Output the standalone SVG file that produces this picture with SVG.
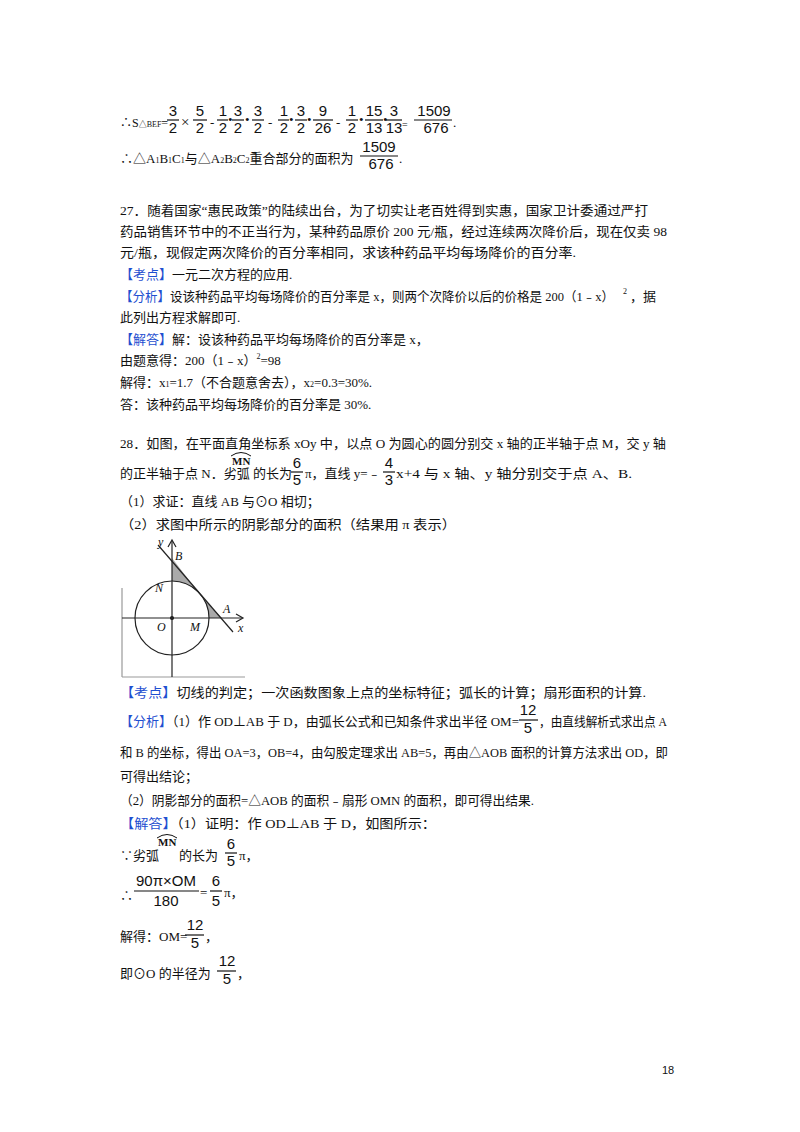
<svg xmlns="http://www.w3.org/2000/svg" width="800" height="1132" viewBox="0 0 800 1132">
<style>
text{font-family:"Liberation Serif","Noto Sans CJK SC",serif;font-size:13px;fill:#111}
.s{font-size:8px}
.n{font-family:"Liberation Sans",sans-serif;font-size:15px;text-anchor:middle}
.b{fill:#1f4fd0}
.i{font-style:italic;font-size:12px}
line.f{stroke:#111;stroke-width:1.2}
</style>
<rect width="800" height="1132" fill="#fff"/>
<g id="line1">
<text x="120" y="127" style="font-size:12px">∴S<tspan class="s">△BEF</tspan>=</text>
<text class="n" x="173" y="116">3</text><text class="n" x="173" y="133">2</text><line class="f" x1="167" y1="120" x2="179" y2="120"/>
<text x="181" y="127" style="font-size:15px">×</text>
<text class="n" x="200" y="116">5</text><text class="n" x="200" y="133">2</text><line class="f" x1="193" y1="120" x2="207" y2="120"/>
<text x="210" y="127">-</text>
<text class="n" x="223" y="116">1</text><text class="n" x="223" y="133">2</text><line class="f" x1="217" y1="120" x2="228" y2="120"/>
<text x="228" y="124">•</text>
<text class="n" x="238" y="116">3</text><text class="n" x="238" y="133">2</text><line class="f" x1="232" y1="120" x2="244" y2="120"/>
<text x="245" y="124">•</text>
<text class="n" x="258" y="116">3</text><text class="n" x="258" y="133">2</text><line class="f" x1="252" y1="120" x2="264" y2="120"/>
<text x="268" y="127">-</text>
<text class="n" x="284" y="116">1</text><text class="n" x="284" y="133">2</text><line class="f" x1="278" y1="120" x2="289" y2="120"/>
<text x="289" y="124">•</text>
<text class="n" x="301" y="116">3</text><text class="n" x="301" y="133">2</text><line class="f" x1="295" y1="120" x2="307" y2="120"/>
<text x="307" y="124">•</text>
<text class="n" x="323" y="116">9</text><text class="n" x="323" y="133">26</text><line class="f" x1="313" y1="120" x2="333" y2="120"/>
<text x="336" y="127">-</text>
<text class="n" x="352" y="116">1</text><text class="n" x="352" y="133">2</text><line class="f" x1="346" y1="120" x2="358" y2="120"/>
<text x="359" y="124">•</text>
<text class="n" x="374" y="116">15</text><text class="n" x="374" y="133">13</text><line class="f" x1="365" y1="120" x2="383" y2="120"/>
<text x="383" y="124">•</text>
<text class="n" x="394" y="116">3</text><text class="n" x="394" y="133">13</text><line class="f" x1="386" y1="120" x2="402" y2="120"/>
<text x="402" y="128" style="font-size:10px">=</text>
<text class="n" x="434" y="116">1509</text><text class="n" x="436" y="133">676</text><line class="f" x1="414" y1="120" x2="452" y2="120"/>
<text x="453" y="127">.</text>
</g>
<g id="line2">
<text x="120" y="163">∴△A<tspan class="s">1</tspan>B<tspan class="s">1</tspan>C<tspan class="s">1</tspan>与△A<tspan class="s">2</tspan>B<tspan class="s">2</tspan>C<tspan class="s">2</tspan>重合部分的面积为</text>
<text class="n" x="379" y="152">1509</text><text class="n" x="381" y="169">676</text><line class="f" x1="360" y1="156" x2="398" y2="156"/>
<text x="399" y="163">.</text>
</g>
<g id="q27">
<text x="120" y="215" textLength="528" lengthAdjust="spacingAndGlyphs">27．随着国家“惠民政策”的陆续出台，为了切实让老百姓得到实惠，国家卫计委通过严打</text>
<text x="120" y="236" textLength="547" lengthAdjust="spacingAndGlyphs">药品销售环节中的不正当行为，某种药品原价 200 元/瓶，经过连续两次降价后，现在仅卖 98</text>
<text x="120" y="257" textLength="456" lengthAdjust="spacingAndGlyphs">元/瓶，现假定两次降价的百分率相同，求该种药品平均每场降价的百分率.</text>
<text x="120" y="279"><tspan class="b">【考点】</tspan>一元二次方程的应用.</text>
<text x="120" y="301" textLength="494" lengthAdjust="spacingAndGlyphs"><tspan class="b">【分析】</tspan>设该种药品平均每场降价的百分率是 x，则两个次降价以后的价格是 200（1﹣x）</text>
<text class="s" x="623" y="294">2</text>
<text x="630" y="301">，据</text>
<text x="120" y="322">此列出方程求解即可.</text>
<text x="120" y="344"><tspan class="b">【解答】</tspan>解：设该种药品平均每场降价的百分率是 x，</text>
<text x="120" y="365">由题意得：200（1﹣x）<tspan class="s" dy="-6">2</tspan><tspan dy="6">=98</tspan></text>
<text x="120" y="387">解得：x<tspan class="s">1</tspan>=1.7（不合题意舍去），x<tspan class="s">2</tspan>=0.3=30%.</text>
<text x="120" y="409">答：该种药品平均每场降价的百分率是 30%.</text>
</g>
<g id="q28">
<text x="120" y="448" textLength="546" lengthAdjust="spacingAndGlyphs">28．如图，在平面直角坐标系 xOy 中，以点 O 为圆心的圆分别交 x 轴的正半轴于点 M，交 y 轴</text>
<text x="120" y="478">的正半轴于点 N．劣弧</text>
<text x="232" y="465" style="font-size:11px;font-weight:bold">MN</text>
<path d="M231 456 Q241 449 251 456" fill="none" stroke="#111"/>
<text x="253" y="478">的长为</text>
<text class="n" x="297" y="468">6</text><text class="n" x="297" y="485">5</text><line class="f" x1="291" y1="472" x2="303" y2="472"/>
<text x="305" y="478">π，直线 y=﹣</text>
<text class="n" x="389" y="468">4</text><text class="n" x="389" y="485">3</text><line class="f" x1="383" y1="472" x2="395" y2="472"/>
<text x="396" y="478" textLength="236" lengthAdjust="spacingAndGlyphs">x+4 与 x 轴、y 轴分别交于点 A、B.</text>
<text x="120" y="506">（1）求证：直线 AB 与⊙O 相切；</text>
<text x="120" y="529" textLength="336" lengthAdjust="spacingAndGlyphs">（2）求图中所示的阴影部分的面积（结果用 π 表示）</text>
</g>
<g id="figure" stroke="#222" fill="none" stroke-width="1.2">
<path d="M172 558 L172 581 A37 37 0 0 1 201 596 Z" fill="#aaa" stroke="none"/>
<path d="M201 596 A37 37 0 0 1 209 618 L222 618 Z" fill="#aaa" stroke="none"/>
<line x1="122" y1="588" x2="122" y2="677" stroke="#999"/>
<line x1="122" y1="677" x2="245" y2="677" stroke="#999"/>
<line x1="172" y1="677" x2="172" y2="541"/>
<path d="M168 547 L172 540 L176 547"/>
<line x1="122" y1="618" x2="242" y2="618"/>
<path d="M236 614 L243 618 L236 622"/>
<circle cx="172" cy="618" r="37"/>
<line x1="158" y1="545" x2="233" y2="632"/>
<circle cx="172" cy="618" r="1.5" fill="#222"/>
</g>
<g id="figlabels">
<text class="i" x="158" y="546">y</text>
<text class="i" x="175" y="560">B</text>
<text class="i" x="155" y="592">N</text>
<text class="i" x="223" y="613">A</text>
<text class="i" x="238" y="632">x</text>
<text class="i" x="157" y="631">O</text>
<text class="i" x="190" y="631">M</text>
</g>
<g id="solution">
<text x="120" y="697" textLength="526" lengthAdjust="spacingAndGlyphs"><tspan class="b">【考点】</tspan>切线的判定；一次函数图象上点的坐标特征；弧长的计算；扇形面积的计算.</text>
<text x="120" y="726" textLength="399" lengthAdjust="spacingAndGlyphs"><tspan class="b">【分析】</tspan>（1）作 OD⊥AB 于 D，由弧长公式和已知条件求出半径 OM=</text>
<text class="n" x="528" y="715">12</text><text class="n" x="528" y="733">5</text><line class="f" x1="519" y1="720" x2="538" y2="720"/>
<text x="539" y="726" textLength="128" lengthAdjust="spacingAndGlyphs">，由直线解析式求出点 A</text>
<text x="120" y="757" textLength="548" lengthAdjust="spacingAndGlyphs">和 B 的坐标，得出 OA=3，OB=4，由勾股定理求出 AB=5，再由△AOB 面积的计算方法求出 OD，即</text>
<text x="120" y="781">可得出结论；</text>
<text x="120" y="805" textLength="414" lengthAdjust="spacingAndGlyphs">（2）阴影部分的面积=△AOB 的面积﹣扇形 OMN 的面积，即可得出结果.</text>
<text x="120" y="828" textLength="316" lengthAdjust="spacingAndGlyphs"><tspan class="b">【解答】</tspan>（1）证明：作 OD⊥AB 于 D，如图所示：</text>
<text x="120" y="860">∵劣弧</text>
<text x="158" y="846" style="font-size:11px;font-weight:bold">MN</text>
<path d="M157 838 Q167 831 177 838" fill="none" stroke="#111"/>
<text x="179" y="860">的长为</text>
<text class="n" x="231" y="849">6</text><text class="n" x="231" y="866">5</text><line class="f" x1="225" y1="853" x2="237" y2="853"/>
<text x="239" y="860">π，</text>
<text x="120" y="900">∴</text>
<text class="n" x="166" y="886">90π×OM</text><text class="n" x="166" y="906">180</text><line class="f" x1="134" y1="891" x2="199" y2="891"/>
<text x="200" y="897">=</text>
<text class="n" x="216" y="886">6</text><text class="n" x="216" y="906">5</text><line class="f" x1="210" y1="891" x2="222" y2="891"/>
<text x="224" y="897">π，</text>
<text x="120" y="941">解得：OM=</text>
<text class="n" x="195" y="930">12</text><text class="n" x="195" y="948">5</text><line class="f" x1="185" y1="935" x2="204" y2="935"/>
<text x="205" y="941">，</text>
<text x="120" y="978">即⊙O 的半径为</text>
<text class="n" x="227" y="966">12</text><text class="n" x="227" y="984">5</text><line class="f" x1="217" y1="971" x2="236" y2="971"/>
<text x="237" y="978">，</text>
</g>
<text x="662" y="1074" style="font-family:'Liberation Sans',sans-serif;font-size:11px">18</text>
</svg>
